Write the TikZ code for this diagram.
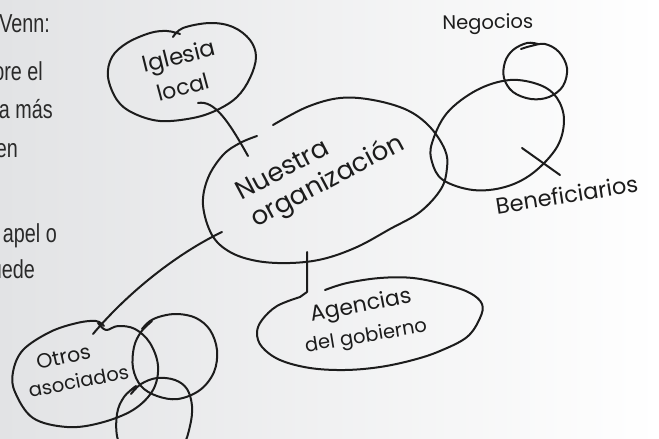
\documentclass[tikz,border=0pt]{standalone}
\usepackage{fontspec}
\newfontfamily\hand{Poppins}
\newfontfamily\narrow[FakeStretch=0.76]{Liberation Sans}
\definecolor{ink}{RGB}{28,28,28}
\definecolor{bgl}{RGB}{226,227,229}
\definecolor{side}{RGB}{42,42,42}
\tikzset{
  ink/.style={draw=ink, line width=2pt, line cap=round, line join=round},
  lbl/.style={text=ink, inner sep=0pt, anchor=base, font=\hand},
  sidetext/.style={text=side, inner sep=0pt, anchor=base east, font=\narrow\fontsize{26}{30}\selectfont}
}
\begin{document}
\begin{tikzpicture}[x=1pt,y=-1pt]
\useasboundingbox (0,0) rectangle (659,439);
\begin{scope}
\clip (0,0) rectangle (659,439);
\fill[left color=bgl, right color=white] (0,0) rectangle (659,439);

% left side text fragments
\node[sidetext] (t1) at (50,32) {Venn:};
\node[sidetext] (t2) at (43,80) {ore el};
\node[sidetext] (t3) at (53,118) {a más};
\node[sidetext] (t4) at (18,157) {en};
\node[sidetext] (t5) at (57,242) {apel o};
\node[sidetext] (t6) at (35,278) {uede};

% Nuestra organizacion outline
\draw[ink] plot[smooth, tension=0.6] coordinates {(273,125) (307,107) (340,98) (373,100) (407,110) (430,127) (445,150) (447,168) (441,189) (420,212) (390,229) (357,247) (323,259) (290,263) (257,261) (230,252) (212,235) (203,205) (208,178) (223,155) (240,143) (257,136)};
\node[lbl, rotate=28, font=\hand\fontsize{26}{30}\selectfont] (nuestra1) at (286,177) {Nuestra};
\node[lbl, rotate=28, font=\hand\fontsize{26}{30}\selectfont] (nuestra2) at (331,188) {organización};

% Iglesia local
\draw[ink] plot[smooth, tension=0.6] coordinates {(173,37) (183,28) (210,23) (233,27) (250,40) (256,57) (250,78) (237,97) (217,110) (193,118) (160,121) (133,113) (117,100) (108,77) (112,57) (127,43) (150,33) (167,31) (180,34)};
\node[lbl, rotate=14, font=\hand\fontsize{23}{27}\selectfont] (iglesia1) at (181,64) {Iglesia};
\node[lbl, rotate=15, font=\hand\fontsize{22}{26}\selectfont] (iglesia2) at (185,95) {local};
\coordinate (igc) at (198,103);
\coordinate (nuc1) at (248,156);
\draw[ink] (igc) .. controls (214,100) and (228,120) .. (nuc1);

% Negocios / Beneficiarios
\draw[ink] plot[smooth, tension=0.6] coordinates {(521,49) (531,46) (545,44) (559,52) (567,68) (563,86) (549,97) (531,99) (513,92) (504,78) (505,62) (513,50) (527,43) (538,44)};
\node[lbl, rotate=1, font=\hand\fontsize{19.5}{23}\selectfont] (negocios) at (488,29) {Negocios};
\draw[ink] plot[smooth cycle, tension=0.6] coordinates {(432,143) (447,113) (477,90) (510,80) (540,85) (557,98) (564,120) (557,147) (533,173) (505,187) (473,190) (443,180) (432,162)};
\coordinate (bc1) at (522,148);
\coordinate (bc2) at (560,175);
\draw[ink] (bc1) -- (bc2);
\node[lbl, rotate=9, font=\hand\fontsize{22.5}{26}\selectfont] (benef) at (568,203) {Beneficiarios};

% Agencias del gobierno
\coordinate (nub) at (307,252);
\coordinate (agc) at (307,292);
\coordinate (agj) at (300,297);
\draw[ink] (nub) -- (agc) -- (agj);
\draw[ink] plot[smooth, tension=0.6] coordinates {(325,290) (347,283) (380,278) (413,278) (447,285) (470,293) (482,304) (480,318) (467,337) (440,351) (413,360) (380,367) (345,370) (310,368) (280,360) (262,347) (257,333) (262,320) (277,306) (300,297)};
\node[lbl, rotate=11, font=\hand\fontsize{22}{26}\selectfont] (agencias1) at (362,312) {Agencias};
\node[lbl, rotate=9.5, font=\hand\fontsize{19.5}{23}\selectfont] (agencias2) at (367,342) {del gobierno};

% Otros asociados
\draw[ink] plot[smooth, tension=0.6] coordinates {(98,323) (106,330) (118,326) (135,329) (150,343) (158,366) (153,390) (133,410) (100,423) (67,427) (33,418) (15,392) (13,372) (23,350) (50,332) (77,323) (96,321) (104,326)};
\node[lbl, rotate=12.5, font=\hand\fontsize{20.5}{24}\selectfont] (otros1) at (65,364) {Otros};
\node[lbl, rotate=11.3, font=\hand\fontsize{19.5}{23}\selectfont] (otros2) at (80,388) {asociados};
\coordinate (otc) at (93,334);
\coordinate (nuc2) at (222,232);
\draw[ink] (otc) .. controls (130,290) and (180,252) .. (nuc2);
% overlapping circles
\draw[ink] plot[smooth, tension=0.6] coordinates {(142,329) (150,321) (162,316) (178,314) (196,318) (210,330) (217,350) (214,372) (200,390) (178,399) (157,396) (141,386) (133,368) (134,347) (141,332) (152,321)};
\draw[ink] plot[smooth, tension=0.6] coordinates {(131,394) (141,384) (157,378) (175,380) (187,389) (192,406) (190,426) (182,447) (160,464) (132,460) (118,440) (117,414) (124,397) (136,386)};
\end{scope}
\end{tikzpicture}
\end{document}
